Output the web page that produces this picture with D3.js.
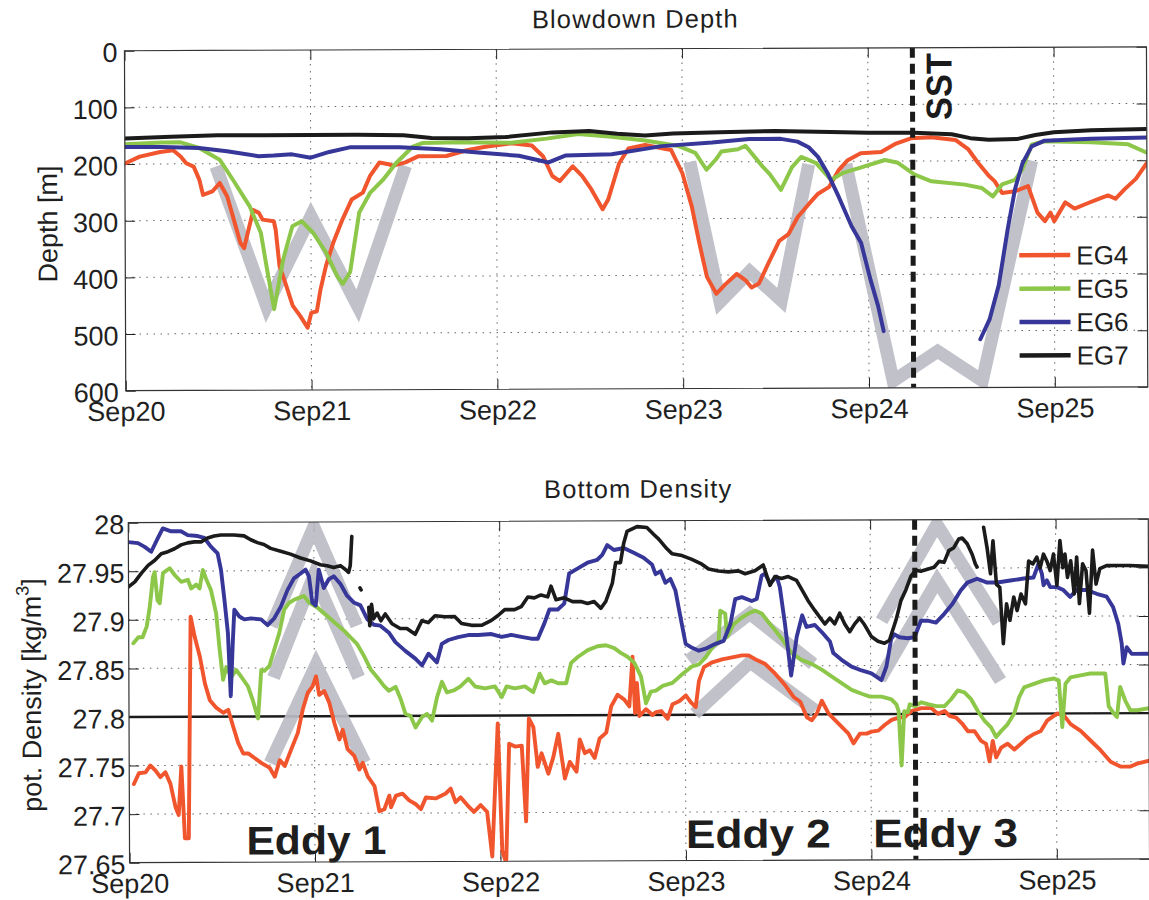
<!DOCTYPE html>
<html>
<head>
<meta charset="utf-8">
<script src="https://cdn.jsdelivr.net/npm/d3@7"></script>
<style>
  body { margin: 0; background: #fff; }
  svg { display: block; font-family: "Liberation Sans", Arial, Helvetica, sans-serif; }
</style>
</head>
<body>
<svg id="fig" width="1149" height="900"></svg>
<script>
// ---- categories, ticks ----
const seriesNames  = ["EG4", "EG5", "EG6", "EG7"];
const seriesColors = ["#f0552d", "#8dc74a", "#37379a", "#1b1b1b"];
const dayTicks = [0, 1, 2, 3, 4, 5];               // days after Sep 20, 00:00
const dayTickLabels = ["Sep20", "Sep21", "Sep22", "Sep23", "Sep24", "Sep25"];
const depthTicks = [0, 100, 200, 300, 400, 500, 600];
const densityTicks = [27.65, 27.7, 27.75, 27.8, 27.85, 27.9, 27.95, 28];
const sstDay = 4.24;          // time of the SST marker
const densityRef = 27.8;      // reference isopycnal
const eddyLabels = ["Eddy 1", "Eddy 2", "Eddy 3"];
const eddyLabelDays = [0.63, 3.0, 4.01];

// ---- blowdown depth [m]  ([day, depth], null = gap) ----
const depthEG4 = [[0,199],[0.08,187],[0.19,179],[0.26,176],[0.3,187],[0.33,199],[0.37,205],[0.4,228],[0.42,255],[0.47,249],[0.51,234],[0.55,258],[0.58,293],[0.62,340],[0.64,349],[0.66,322],[0.69,282],[0.72,287],[0.74,299],[0.8,302],[0.81,317],[0.83,381],[0.86,410],[0.9,451],[0.94,469],[0.98,490],[1.0,464],[1.03,461],[1.05,423],[1.08,381],[1.12,340],[1.17,299],[1.22,264],[1.28,252],[1.32,222],[1.37,199],[1.42,202],[1.44,205],[1.51,199],[1.58,188],[1.73,188],[1.84,178],[1.94,172],[2.08,166],[2.19,170],[2.25,189],[2.3,224],[2.34,233],[2.41,207],[2.46,224],[2.51,248],[2.57,283],[2.6,266],[2.66,202],[2.71,176],[2.8,170],[2.94,179],[3.0,220],[3.05,279],[3.09,344],[3.13,403],[3.18,433],[3.23,416],[3.29,398],[3.34,410],[3.37,422],[3.41,415],[3.46,380],[3.52,340],[3.57,328],[3.62,298],[3.68,275],[3.73,257],[3.79,245],[3.84,216],[3.89,198],[3.96,186],[4.07,184],[4.15,169],[4.23,160],[4.34,158],[4.47,163],[4.54,180],[4.59,203],[4.65,227],[4.68,236],[4.72,257],[4.79,254],[4.86,245],[4.91,292],[4.95,307],[4.98,292],[5.0,307],[5.06,274],[5.11,285],[5.17,277],[5.24,268],[5.29,262],[5.33,268],[5.38,251],[5.44,233],[5.5,205]];
const depthEG5 = [[0,165],[0.2,162],[0.3,162],[0.4,172],[0.51,193],[0.58,228],[0.67,275],[0.73,322],[0.76,381],[0.8,457],[0.85,369],[0.9,311],[0.95,302],[1.01,322],[1.08,357],[1.14,399],[1.17,413],[1.21,392],[1.26,287],[1.32,252],[1.39,229],[1.46,200],[1.55,171],[1.6,165],[1.8,164],[2.08,165],[2.27,158],[2.44,150],[2.62,155],[2.8,162],[2.98,172],[3.07,184],[3.13,214],[3.18,196],[3.21,182],[3.3,178],[3.34,172],[3.43,208],[3.47,222],[3.53,250],[3.59,210],[3.64,192],[3.72,203],[3.8,233],[3.86,221],[3.95,212],[4.09,198],[4.16,203],[4.25,224],[4.34,236],[4.52,242],[4.61,248],[4.67,263],[4.72,242],[4.79,234],[4.83,215],[4.88,172],[4.95,166],[5.2,168],[5.4,172],[5.5,187]];
const depthEG6 = [[0,170],[0.2,170],[0.4,172],[0.55,178],[0.72,187],[0.8,186],[0.9,184],[1.0,190],[1.1,180],[1.21,172],[1.48,172],[1.7,176],[1.9,182],[2.12,188],[2.28,200],[2.37,188],[2.62,186],[2.89,172],[3.16,166],[3.36,160],[3.53,160],[3.62,165],[3.68,175],[3.73,192],[3.78,220],[3.84,262],[3.91,315],[3.96,344],[4.01,409],[4.05,455],[4.08,500],null,[4.6,515],[4.65,480],[4.7,420],[4.75,320],[4.79,250],[4.83,205],[4.88,175],[4.95,165],[5.2,162],[5.5,160]];
const depthEG7 = [[0,155],[0.25,152],[0.5,150],[0.75,150],[1.0,150],[1.25,150],[1.5,151],[1.65,156],[1.85,157],[2.05,155],[2.3,147],[2.5,145],[2.65,150],[2.8,153],[2.95,150],[3.2,148],[3.5,146],[3.8,148],[4.0,150],[4.25,150],[4.45,153],[4.55,160],[4.65,163],[4.8,162],[4.9,155],[5.0,150],[5.2,147],[5.5,145]];

// eddy signatures in blowdown depth
const depthEddy1 = [[0.49,205],[0.76,452],[1.0,293],[1.25,452],[1.51,205]];
const depthEddy2 = [[3.04,200],[3.2,447],[3.36,394],[3.53,445],[3.68,205]];
const depthEddy3 = [[3.88,205],[4.13,588],[4.37,536],[4.61,588],[4.88,200]];

// ---- bottom potential density [kg/m^3] ----
const densEG4 = [[0.025,27.731],[0.052,27.742],[0.088,27.743],[0.114,27.75],[0.141,27.745],[0.168,27.738],[0.195,27.743],[0.222,27.731],[0.249,27.707],[0.266,27.699],[0.281,27.749],[0.299,27.675],[0.32,27.675],[0.334,27.903],[0.356,27.882],[0.383,27.862],[0.41,27.834],[0.436,27.817],[0.472,27.809],[0.508,27.804],[0.535,27.807],[0.561,27.79],[0.588,27.773],[0.615,27.762],[0.642,27.762],[0.678,27.757],[0.714,27.752],[0.758,27.747],[0.785,27.738],[0.812,27.755],[0.839,27.749],[0.874,27.766],[0.91,27.783],[0.937,27.807],[0.964,27.824],[0.991,27.831],[1.009,27.841],[1.026,27.822],[1.053,27.826],[1.08,27.814],[1.107,27.793],[1.134,27.776],[1.152,27.786],[1.178,27.766],[1.214,27.759],[1.241,27.745],[1.259,27.752],[1.286,27.738],[1.322,27.728],[1.348,27.702],[1.375,27.704],[1.402,27.718],[1.411,27.706],[1.438,27.718],[1.473,27.72],[1.509,27.713],[1.545,27.709],[1.572,27.704],[1.599,27.716],[1.652,27.715],[1.706,27.72],[1.733,27.725],[1.759,27.711],[1.786,27.716],[1.822,27.708],[1.858,27.701],[1.894,27.708],[1.929,27.701],[1.956,27.655],[1.988,27.792],[2.01,27.661],[2.031,27.648],[2.049,27.771],[2.081,27.768],[2.117,27.769],[2.139,27.691],[2.156,27.797],[2.18,27.788],[2.203,27.747],[2.224,27.761],[2.26,27.74],[2.287,27.757],[2.314,27.781],[2.349,27.735],[2.376,27.752],[2.412,27.742],[2.43,27.775],[2.457,27.761],[2.484,27.764],[2.51,27.756],[2.537,27.776],[2.573,27.782],[2.6,27.809],[2.635,27.821],[2.671,27.816],[2.698,27.809],[2.716,27.86],[2.729,27.802],[2.739,27.833],[2.752,27.799],[2.788,27.806],[2.823,27.8],[2.842,27.803],[2.87,27.804],[2.904,27.796],[2.931,27.811],[2.967,27.814],[3.003,27.82],[3.029,27.813],[3.056,27.808],[3.074,27.835],[3.101,27.849],[3.146,27.854],[3.199,27.857],[3.253,27.859],[3.307,27.861],[3.342,27.861],[3.378,27.857],[3.432,27.852],[3.485,27.842],[3.539,27.83],[3.584,27.818],[3.62,27.813],[3.655,27.797],[3.682,27.794],[3.709,27.801],[3.736,27.814],[3.772,27.801],[3.807,27.794],[3.843,27.787],[3.879,27.78],[3.906,27.77],[3.941,27.78],[3.977,27.78],[4.004,27.782],[4.04,27.783],[4.076,27.789],[4.112,27.794],[4.147,27.796],[4.183,27.797],[4.219,27.803],[4.272,27.806],[4.326,27.806],[4.362,27.8],[4.398,27.803],[4.424,27.798],[4.46,27.796],[4.496,27.789],[4.523,27.782],[4.559,27.782],[4.594,27.772],[4.621,27.769],[4.639,27.751],[4.657,27.772],[4.675,27.755],[4.702,27.765],[4.737,27.769],[4.773,27.763],[4.809,27.769],[4.845,27.775],[4.88,27.779],[4.916,27.782],[4.952,27.793],[5.006,27.8],[5.041,27.798],[5.077,27.789],[5.131,27.782],[5.184,27.772],[5.238,27.762],[5.292,27.75],[5.345,27.745],[5.399,27.745],[5.435,27.748],[5.5,27.751]];
const densEG5 = [[0.025,27.876],[0.052,27.882],[0.075,27.882],[0.097,27.893],[0.114,27.913],[0.132,27.944],[0.141,27.949],[0.156,27.92],[0.168,27.917],[0.186,27.948],[0.222,27.953],[0.249,27.946],[0.284,27.939],[0.32,27.941],[0.338,27.932],[0.365,27.936],[0.383,27.932],[0.401,27.951],[0.418,27.942],[0.445,27.93],[0.472,27.906],[0.49,27.869],[0.508,27.838],[0.526,27.851],[0.553,27.841],[0.579,27.848],[0.606,27.841],[0.642,27.831],[0.669,27.816],[0.696,27.798],[0.714,27.848],[0.731,27.847],[0.758,27.852],[0.785,27.869],[0.812,27.886],[0.839,27.91],[0.866,27.917],[0.892,27.92],[0.919,27.922],[0.946,27.924],[0.973,27.917],[1.018,27.912],[1.053,27.906],[1.089,27.9],[1.125,27.894],[1.161,27.888],[1.196,27.881],[1.232,27.874],[1.268,27.862],[1.304,27.848],[1.339,27.84],[1.375,27.831],[1.402,27.826],[1.438,27.83],[1.464,27.818],[1.491,27.802],[1.518,27.8],[1.545,27.788],[1.581,27.799],[1.607,27.802],[1.634,27.795],[1.661,27.819],[1.688,27.835],[1.715,27.824],[1.751,27.826],[1.786,27.83],[1.831,27.838],[1.867,27.83],[1.92,27.828],[1.974,27.83],[2.01,27.819],[2.037,27.83],[2.081,27.828],[2.135,27.83],[2.18,27.824],[2.215,27.843],[2.242,27.833],[2.278,27.836],[2.314,27.833],[2.358,27.833],[2.385,27.854],[2.421,27.86],[2.475,27.867],[2.528,27.871],[2.573,27.872],[2.618,27.869],[2.653,27.864],[2.689,27.86],[2.725,27.854],[2.761,27.84],[2.788,27.812],[2.814,27.824],[2.842,27.825],[2.878,27.83],[2.931,27.833],[2.985,27.842],[3.038,27.85],[3.074,27.852],[3.11,27.859],[3.146,27.869],[3.181,27.876],[3.19,27.907],[3.217,27.904],[3.226,27.88],[3.262,27.893],[3.307,27.9],[3.342,27.904],[3.378,27.907],[3.414,27.904],[3.45,27.895],[3.485,27.887],[3.521,27.878],[3.575,27.863],[3.629,27.856],[3.682,27.852],[3.736,27.846],[3.789,27.839],[3.843,27.832],[3.897,27.825],[3.951,27.821],[3.995,27.818],[4.058,27.818],[4.112,27.815],[4.138,27.81],[4.15,27.803],[4.165,27.747],[4.18,27.803],[4.2,27.802],[4.21,27.81],[4.237,27.808],[4.272,27.812],[4.308,27.81],[4.353,27.808],[4.398,27.808],[4.433,27.815],[4.469,27.824],[4.505,27.822],[4.541,27.815],[4.576,27.803],[4.612,27.793],[4.648,27.786],[4.675,27.776],[4.702,27.782],[4.737,27.789],[4.773,27.8],[4.8,27.817],[4.827,27.827],[4.88,27.8305],[4.934,27.834],[4.988,27.836],[5.014,27.834],[5.032,27.786],[5.05,27.8305],[5.077,27.837],[5.131,27.839],[5.184,27.841],[5.265,27.841],[5.283,27.807],[5.309,27.8],[5.327,27.796],[5.345,27.827],[5.372,27.813],[5.399,27.803],[5.435,27.803],[5.5,27.805]];
const densEG6 = [[0,27.98],[0.052,27.979],[0.088,27.975],[0.123,27.97],[0.159,27.984],[0.186,27.994],[0.231,27.991],[0.284,27.991],[0.32,27.987],[0.374,27.986],[0.41,27.984],[0.445,27.975],[0.481,27.968],[0.499,27.951],[0.517,27.92],[0.535,27.886],[0.549,27.821],[0.561,27.876],[0.57,27.91],[0.597,27.903],[0.624,27.9],[0.66,27.901],[0.714,27.9],[0.749,27.894],[0.785,27.901],[0.821,27.913],[0.857,27.93],[0.892,27.942],[0.928,27.947],[0.955,27.951],[0.973,27.944],[0.991,27.917],[1.009,27.914],[1.026,27.951],[1.053,27.932],[1.08,27.941],[1.107,27.944],[1.143,27.936],[1.178,27.924],[1.214,27.917],[1.25,27.914],[1.286,27.9],[1.322,27.894],[1.357,27.893],[1.402,27.886],[1.438,27.876],[1.491,27.867],[1.545,27.859],[1.581,27.852],[1.616,27.864],[1.661,27.855],[1.688,27.874],[1.724,27.878],[1.777,27.881],[1.831,27.883],[1.885,27.883],[1.956,27.884],[2.01,27.881],[2.063,27.883],[2.117,27.881],[2.171,27.879],[2.206,27.879],[2.242,27.895],[2.269,27.909],[2.314,27.909],[2.349,27.915],[2.376,27.946],[2.421,27.951],[2.475,27.957],[2.528,27.96],[2.555,27.965],[2.582,27.975],[2.618,27.97],[2.671,27.972],[2.725,27.967],[2.778,27.962],[2.823,27.955],[2.842,27.945],[2.87,27.948],[2.895,27.936],[2.922,27.94],[2.949,27.928],[2.976,27.9],[3.003,27.873],[3.038,27.869],[3.074,27.866],[3.11,27.868],[3.164,27.873],[3.208,27.876],[3.244,27.893],[3.271,27.919],[3.307,27.921],[3.36,27.917],[3.387,27.919],[3.414,27.943],[3.432,27.945],[3.459,27.935],[3.495,27.942],[3.512,27.931],[3.539,27.893],[3.571,27.84],[3.602,27.88],[3.632,27.902],[3.655,27.89],[3.7,27.892],[3.745,27.883],[3.781,27.875],[3.799,27.863],[3.843,27.856],[3.897,27.849],[3.951,27.845],[4.004,27.842],[4.058,27.835],[4.085,27.849],[4.111,27.877],[4.129,27.882],[4.156,27.879],[4.2,27.878],[4.237,27.879],[4.272,27.896],[4.308,27.896],[4.353,27.894],[4.398,27.903],[4.442,27.913],[4.487,27.927],[4.523,27.935],[4.576,27.939],[4.63,27.935],[4.684,27.935],[4.755,27.937],[4.827,27.939],[4.88,27.94],[4.907,27.954],[4.925,27.944],[4.934,27.932],[4.952,27.937],[4.97,27.93],[5.006,27.93],[5.041,27.927],[5.077,27.92],[5.113,27.927],[5.167,27.927],[5.22,27.923],[5.274,27.92],[5.309,27.909],[5.336,27.892],[5.354,27.872],[5.363,27.851],[5.381,27.868],[5.408,27.861],[5.5,27.861]];
const densEG7 = [[0,27.934],[0.034,27.939],[0.07,27.948],[0.106,27.956],[0.141,27.961],[0.177,27.968],[0.213,27.97],[0.249,27.973],[0.284,27.977],[0.32,27.979],[0.356,27.98],[0.392,27.98],[0.427,27.984],[0.463,27.986],[0.499,27.987],[0.57,27.987],[0.624,27.986],[0.66,27.982],[0.696,27.979],[0.731,27.977],[0.767,27.973],[0.821,27.97],[0.874,27.967],[0.928,27.963],[0.982,27.96],[1.035,27.956],[1.071,27.955],[1.107,27.953],[1.143,27.955],[1.17,27.951],[1.187,27.948],[1.196,27.955],[1.205,27.985],null,[1.248,27.932],[1.254,27.930],null,[1.295,27.912],[1.30,27.893],[1.31,27.915],[1.32,27.9],[1.34,27.906],[1.36,27.898],[1.384,27.905],[1.42,27.895],[1.464,27.89],[1.5,27.89],[1.545,27.884],[1.581,27.898],[1.616,27.896],[1.652,27.903],[1.706,27.902],[1.759,27.902],[1.795,27.895],[1.849,27.893],[1.903,27.893],[1.956,27.898],[1.992,27.903],[2.028,27.909],[2.081,27.909],[2.117,27.912],[2.153,27.922],[2.188,27.921],[2.224,27.924],[2.26,27.922],[2.278,27.933],[2.305,27.919],[2.349,27.921],[2.394,27.917],[2.439,27.917],[2.475,27.915],[2.51,27.917],[2.546,27.91],[2.573,27.917],[2.609,27.936],[2.627,27.957],[2.653,27.957],[2.671,27.977],[2.689,27.989],[2.743,27.994],[2.796,27.993],[2.832,27.986],[2.86,27.981],[2.904,27.971],[2.931,27.966],[2.985,27.964],[3.038,27.96],[3.092,27.955],[3.128,27.95],[3.181,27.948],[3.235,27.947],[3.289,27.948],[3.325,27.945],[3.378,27.948],[3.423,27.954],[3.459,27.933],[3.485,27.942],[3.521,27.94],[3.557,27.942],[3.602,27.938],[3.629,27.929],[3.664,27.917],[3.7,27.907],[3.727,27.9],[3.754,27.893],[3.781,27.899],[3.807,27.893],[3.834,27.904],[3.861,27.893],[3.888,27.885],[3.915,27.893],[3.941,27.899],[3.968,27.892],[4.004,27.88],[4.04,27.875],[4.075,27.873],[4.102,27.876],[4.138,27.897],[4.165,27.917],[4.192,27.928],[4.219,27.942],[4.245,27.948],[4.272,27.947],[4.308,27.949],[4.344,27.951],[4.371,27.957],[4.398,27.956],[4.424,27.968],[4.451,27.971],[4.478,27.98],[4.496,27.981],[4.523,27.975],[4.55,27.964],[4.567,27.954],[4.576,27.951],null,[4.612,27.992],[4.63,27.971],[4.648,27.944],[4.662,27.978],[4.68,27.933],[4.698,27.93],[4.716,27.872],[4.734,27.913],[4.752,27.896],[4.773,27.92],[4.791,27.906],[4.812,27.923],[4.836,27.913],[4.854,27.957],[4.877,27.954],[4.898,27.961],[4.916,27.95],[4.934,27.964],[4.952,27.957],[4.97,27.947],[4.988,27.964],[5.006,27.932],[5.023,27.978],[5.038,27.95],[5.05,27.964],[5.063,27.94],[5.081,27.957],[5.099,27.923],[5.113,27.961],[5.127,27.913],[5.145,27.954],[5.163,27.947],[5.181,27.903],[5.199,27.968],[5.217,27.933],[5.238,27.949],[5.274,27.952],[5.327,27.952],[5.399,27.952],[5.5,27.951]];

// eddy signatures in bottom density
const densEddy1Upper = [[0.77,27.893],[1.0,27.995],[1.23,27.893]];
const densEddy1Mid   = [[0.78,27.840],[1.0,27.945],[1.24,27.840]];
const densEddy1Lower = [[0.76,27.752],[1.01,27.853],[1.27,27.752]];
const densEddy2Upper = [[3.02,27.856],[3.35,27.904],[3.69,27.852]];
const densEddy2Lower = [[3.05,27.801],[3.35,27.854],[3.70,27.804]];
const densEddy3Upper = [[4.06,27.896],[4.36,27.995],[4.69,27.894]];
const densEddy3Lower = [[4.05,27.836],[4.36,27.937],[4.70,27.834]];

// ---- drawing ----
const svg = d3.select("#fig");
const root = svg.append("g").attr("transform", "rotate(-0.22 574 450)");
const TEXT = "#1f1f1f";

const xTop = d3.scaleLinear().domain([0, 5.5]).range([126, 1148]);
const yTop = d3.scaleLinear().domain([0, 600]).range([49, 389]);
const xBot = d3.scaleLinear().domain([0, 5.5]).range([128, 1148]);
const yBot = d3.scaleLinear().domain([27.65, 28]).range([861, 521]);

function lineFor(x, y) {
  return d3.line().defined(d => d !== null).x(d => x(d[0])).y(d => y(d[1]));
}

function frame(g, x, y, yTickVals, yFmt, yPad, clipId) {
  const [x0, x1] = x.range();
  const [yb, yt] = y.range()[0] > y.range()[1] ? y.range() : [y.range()[1], y.range()[0]];

  g.append("clipPath").attr("id", clipId)
    .append("rect").attr("x", x0).attr("y", yt).attr("width", x1 - x0).attr("height", yb - yt);

  // dotted grid
  const grid = g.append("g").attr("stroke", "#666").attr("stroke-width", 1)
    .attr("stroke-dasharray", "1.5,5.5");
  grid.selectAll("line.h").data(yTickVals.filter(v => y(v) > yt + 1 && y(v) < yb - 1))
    .join("line").attr("x1", x0).attr("x2", x1).attr("y1", d => y(d)).attr("y2", d => y(d));
  grid.selectAll("line.v").data(dayTicks.filter(v => x(v) > x0 + 1 && x(v) < x1 - 1))
    .join("line").attr("y1", yt).attr("y2", yb).attr("x1", d => x(d)).attr("x2", d => x(d));

  const styleAxis = sel => {
    sel.select(".domain").remove();
    sel.selectAll(".tick line").attr("stroke", "#222");
    sel.selectAll("text").attr("fill", TEXT).attr("font-size", 27)
      .attr("font-family", "'Liberation Sans', Arial, sans-serif");
  };

  g.append("g").attr("transform", `translate(0,${yb})`)
    .call(d3.axisBottom(x).tickValues(dayTicks).tickFormat((d, i) => dayTickLabels[i])
      .tickSize(-10).tickPadding(11))
    .call(styleAxis);
  g.append("g").attr("transform", `translate(0,${yt})`)
    .call(d3.axisTop(x).tickValues(dayTicks).tickFormat("").tickSize(-10))
    .call(styleAxis);
  g.append("g").attr("transform", `translate(${x0},0)`)
    .call(d3.axisLeft(y).tickValues(yTickVals).tickFormat(yFmt).tickSize(-10).tickPadding(yPad))
    .call(styleAxis)
    .call(s => s.selectAll("text").attr("dy", "0.4em"));
  g.append("g").attr("transform", `translate(${x1},0)`)
    .call(d3.axisRight(y).tickValues(yTickVals).tickFormat("").tickSize(-10))
    .call(styleAxis);

  return { x0, x1, yt, yb };
}

function grayTrack(g, pts, x, y) {
  g.append("path").datum(pts)
    .attr("d", lineFor(x, y))
    .attr("fill", "none").attr("stroke", "#bcbcc6").attr("stroke-opacity", 0.92)
    .attr("stroke-width", 13).attr("stroke-linejoin", "miter").attr("stroke-linecap", "butt");
}

function series(g, data, color, x, y, w) {
  g.append("path").datum(data)
    .attr("d", lineFor(x, y))
    .attr("fill", "none").attr("stroke", color).attr("stroke-width", w)
    .attr("stroke-linejoin", "round").attr("stroke-linecap", "round");
}

// ===== Upper panel: blowdown depth =====
const gTop = root.append("g");
const fTop = frame(gTop, xTop, yTop, depthTicks, d => d, 7, "clipTop");
const plotTop = gTop.append("g").attr("clip-path", "url(#clipTop)");
[depthEddy1, depthEddy2, depthEddy3].forEach(p => grayTrack(plotTop, p, xTop, yTop));
[depthEG4, depthEG5, depthEG6, depthEG7].forEach((s, i) =>
  series(plotTop, s, seriesColors[i], xTop, yTop, 4));

// SST marker
gTop.append("line")
  .attr("x1", xTop(sstDay)).attr("x2", xTop(sstDay))
  .attr("y1", fTop.yt).attr("y2", fTop.yb)
  .attr("stroke", "#1b1b1b").attr("stroke-width", 5).attr("stroke-dasharray", "10,6");
gTop.append("text")
  .attr("transform", `translate(${xTop(sstDay) + 39},${fTop.yt + 39}) rotate(-90)`)
  .attr("text-anchor", "middle").attr("font-weight", "bold").attr("font-size", 36)
  .attr("textLength", 67).attr("lengthAdjust", "spacingAndGlyphs")
  .attr("fill", "#1b1b1b").text("SST");

// box
gTop.append("rect").attr("x", fTop.x0).attr("y", fTop.yt)
  .attr("width", fTop.x1 - fTop.x0).attr("height", fTop.yb - fTop.yt)
  .attr("fill", "none").attr("stroke", "#333").attr("stroke-width", 1.2);

// title and y label
gTop.append("text").attr("x", (fTop.x0 + fTop.x1) / 2).attr("y", 28)
  .attr("text-anchor", "middle").attr("font-size", 25.5).attr("letter-spacing", 1.1)
  .attr("fill", TEXT).text("Blowdown Depth");
gTop.append("text").attr("transform", "translate(58,222) rotate(-90)")
  .attr("text-anchor", "middle").attr("font-size", 27).attr("fill", TEXT).text("Depth [m]");

// legend
const leg = gTop.append("g");
seriesNames.forEach((name, i) => {
  const yy = 257 + i * 33.4;
  leg.append("line").attr("x1", 1020).attr("x2", 1071).attr("y1", yy).attr("y2", yy)
    .attr("stroke", seriesColors[i]).attr("stroke-width", 4.5);
  leg.append("text").attr("x", 1077).attr("y", yy).attr("dy", "0.36em")
    .attr("font-size", 26).attr("fill", TEXT).text(name);
});

// ===== Lower panel: bottom density =====
const gBot = root.append("g");
const fBot = frame(gBot, xBot, yBot, densityTicks, d => String(+d.toFixed(2)), 4, "clipBot");
const plotBot = gBot.append("g").attr("clip-path", "url(#clipBot)");

plotBot.append("line")
  .attr("x1", fBot.x0).attr("x2", fBot.x1)
  .attr("y1", yBot(densityRef)).attr("y2", yBot(densityRef))
  .attr("stroke", "#1b1b1b").attr("stroke-width", 2.4);

[densEddy1Upper, densEddy1Mid, densEddy1Lower, densEddy2Upper, densEddy2Lower,
 densEddy3Upper, densEddy3Lower].forEach(p => grayTrack(plotBot, p, xBot, yBot));
[densEG4, densEG5, densEG6, densEG7].forEach((s, i) =>
  series(plotBot, s, seriesColors[i], xBot, yBot, i === 3 ? 3.6 : 3.9));

gBot.append("line")
  .attr("x1", xBot(sstDay)).attr("x2", xBot(sstDay))
  .attr("y1", fBot.yt).attr("y2", fBot.yb)
  .attr("stroke", "#1b1b1b").attr("stroke-width", 5).attr("stroke-dasharray", "10,6");

// eddy annotations
eddyLabels.forEach((t, i) => {
  gBot.append("text")
    .attr("x", xBot(eddyLabelDays[i])).attr("y", yBot(i === 0 ? 27.658 : 27.663))
    .attr("font-size", 40).attr("font-weight", "bold")
    .attr("textLength", i === 0 ? 140 : 145).attr("lengthAdjust", "spacingAndGlyphs")
    .attr("fill", "#1e1e1e").text(t);
});

gBot.append("rect").attr("x", fBot.x0).attr("y", fBot.yt)
  .attr("width", fBot.x1 - fBot.x0).attr("height", fBot.yb - fBot.yt)
  .attr("fill", "none").attr("stroke", "#333").attr("stroke-width", 1.2);

gBot.append("text").attr("x", (fBot.x0 + fBot.x1) / 2).attr("y", 498)
  .attr("text-anchor", "middle").attr("font-size", 25.5).attr("letter-spacing", 1.1)
  .attr("fill", TEXT).text("Bottom Density");

const yl = gBot.append("text").attr("transform", "translate(40,693) rotate(-90)")
  .attr("text-anchor", "middle").attr("font-size", 27).attr("fill", TEXT);
yl.append("tspan").text("pot. Density [kg/m");
yl.append("tspan").attr("font-size", 18).attr("dy", -12).text("3");
yl.append("tspan").attr("dy", 12).text("]");
</script>
</body>
</html>
